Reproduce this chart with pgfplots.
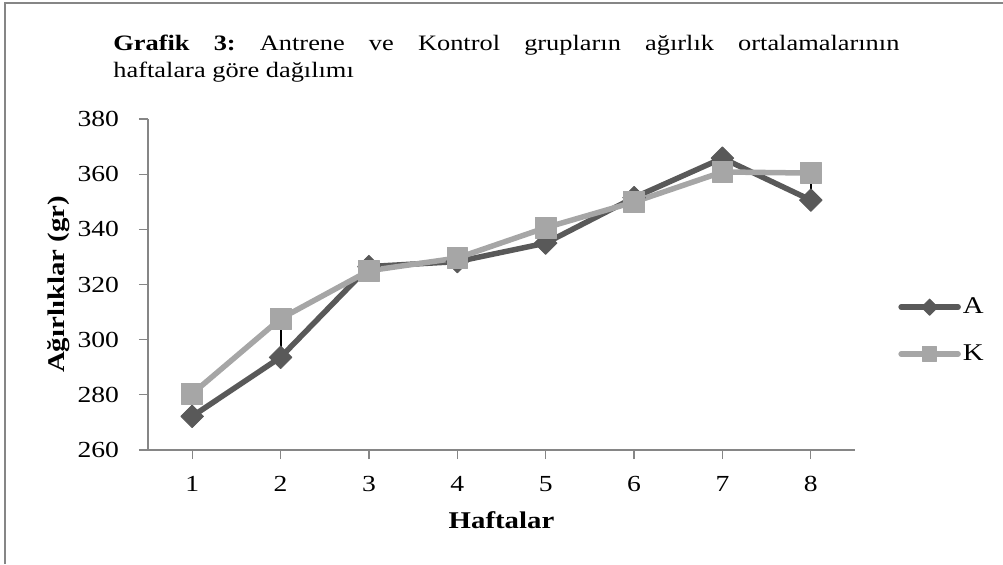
\documentclass[border=0pt]{standalone}
\usepackage{fontspec}
\setmainfont{Liberation Serif}[FakeStretch=1.2]
\usepackage{pgfplots}
\usepackage{pgfplotstable}
\pgfplotsset{compat=1.18}
\definecolor{cA}{RGB}{89,89,89}
\definecolor{cK}{RGB}{166,166,166}
\definecolor{axg}{RGB}{134,134,134}
\pgfplotstableread{
x A K d
1 272.2 280.4 8.2
2 293.6 307.6 14.0
3 326.5 325.0 -1.5
4 328.3 329.6 1.3
5 335.0 340.6 5.6
6 351.5 349.9 -1.6
7 365.8 360.8 -5.0
8 350.6 360.4 9.8
}\datatable
\begin{document}
\frenchspacing
\begin{tikzpicture}[font=\fontsize{11}{13.5}\selectfont]
\useasboundingbox (0,0) rectangle (501.5pt,282pt);
\draw[axg, line width=1pt] (2.5pt,0) -- (2.5pt,280.5pt) -- (501.5pt,280.5pt);
\node[anchor=north west, inner sep=0pt, text width=393pt, align=justify] at (56.5pt,264.5pt)
  {\frenchspacing\textbf{Grafik 3:} Antrene ve Kontrol grupların ağırlık ortalamalarının\linebreak haftalara göre dağılımı};
\begin{axis}[
  at={(74pt,57pt)}, anchor=south west, scale only axis,
  width=353.5pt, height=165.5pt,
  xmin=0.5, xmax=8.5, ymin=260, ymax=380,
  xtick={1,...,8}, ytick={260,280,...,380},
  axis x line*=bottom, axis y line*=left,
  axis line style={axg, line width=0.6pt, -},
  tick style={axg, line width=0.6pt},
  tick align=outside, major tick length=4.5pt,
  /pgf/number format/assume math mode=true,
  ticklabel style={font=\fontsize{11.5}{13}\selectfont},
  yticklabel style={xshift=-6.5pt},
  xticklabel style={yshift=-5pt},
  xlabel={\textbf{Haftalar}}, ylabel={\textbf{Ağırlıklar (gr)}},
  label style={font=\fontsize{12}{14}\selectfont},
  xlabel style={at={(axis description cs:0.5,-0.2115)}, anchor=center},
  ylabel style={at={(axis description cs:-0.1259,0.5)}, anchor=center},
  clip=false,
  legend style={at={(1.0608,0.361)}, anchor=west, draw=none, fill=none,
    inner sep=0pt, row sep=12pt, nodes={inner sep=1pt},
    font=\fontsize{12}{14}\selectfont},
  legend cell align=left,
  legend image code/.code={\draw[mark repeat=2,mark phase=2,#1] plot coordinates {(0pt,0pt)(14.25pt,0pt)(28.5pt,0pt)};},
]
\addplot[cA, line width=2.75pt, line join=round, line cap=round, mark=square*, mark size=4pt,
  mark options={rotate=45, draw=cA, fill=cA, line width=0.4pt},
  legend image post style={mark size=2.9pt}] table[x=x, y=A] {\datatable};
\addlegendentry{A}
\addplot[cK, line width=2.75pt, line join=round, line cap=round, mark=square*, mark size=5.2pt,
  mark options={draw=cK, fill=cK, line width=0.4pt},
  legend image post style={mark size=3.6pt}] table[x=x, y=K] {\datatable};
\addlegendentry{K}
\addplot[forget plot, draw=none, mark=none,
  error bars/.cd, y dir=plus, y explicit, error mark=none,
  error bar style={draw=black, line width=1pt, line cap=butt}] table[x=x, y=A, y error=d] {\datatable};
\end{axis}
\end{tikzpicture}
\end{document}
